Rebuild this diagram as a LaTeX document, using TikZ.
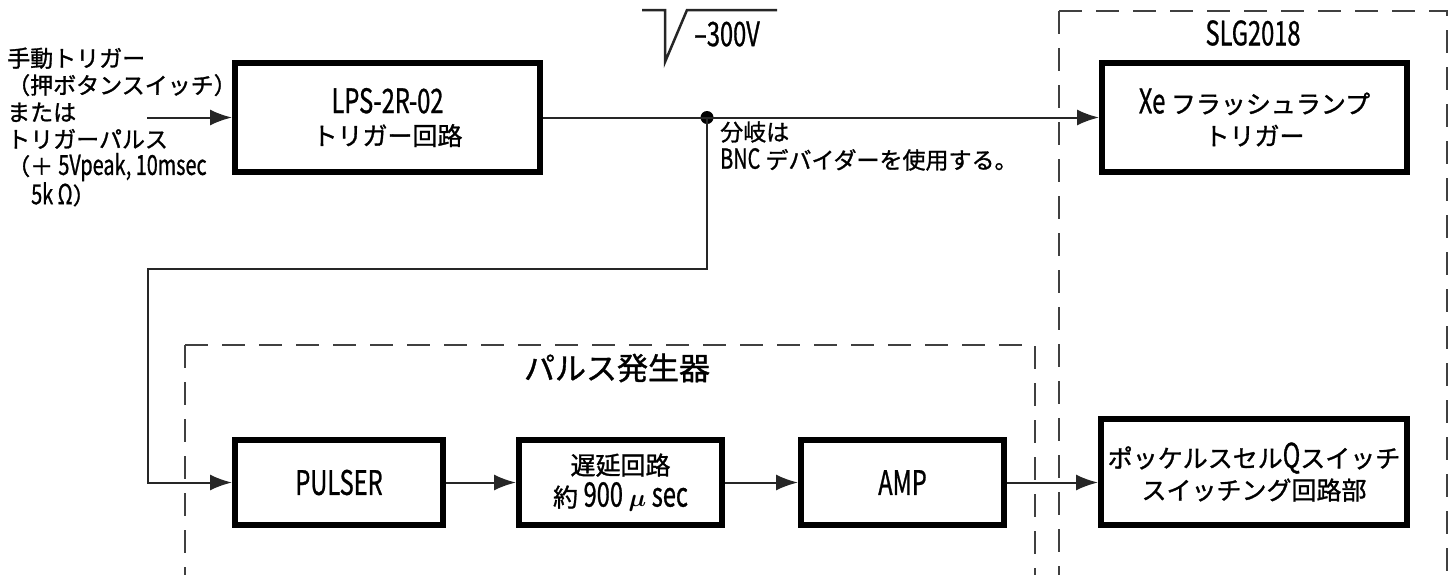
\documentclass[tikz,border=0pt]{standalone}
\usepackage{fontspec}
\setmainfont{Noto Sans CJK JP}[FakeBold=1.2]
\newfontfamily\latf[FakeStretch=0.7,Scale=1.35,FakeBold=0.8]{Noto Sans CJK JP}
\newfontfamily\latn[FakeStretch=0.72,Scale=1.2,FakeBold=0.8]{Noto Sans CJK JP}
\newcommand\lt[1]{{\latf #1}}
\newcommand\lnote[1]{{\latn #1}}
\usetikzlibrary{arrows.meta}
\begin{document}
\begin{tikzpicture}[x=1pt,y=-1pt,
  blk/.style={draw, line width=6pt, inner sep=0pt, align=center,
    font=\fontsize{25}{32}\selectfont},
  conn/.style={line width=2pt, draw=black!85, -{Latex[length=22pt,width=16pt]}},
  wire/.style={line width=2pt, draw=black!85},
  grp/.style={line width=2.5pt, draw=black!75, dash pattern=on 23pt off 14pt},
  note/.style={inner sep=0pt, align=left, font=\fontsize{23}{27}\selectfont},
  title/.style={inner sep=0pt, font=\fontsize{25}{30}\selectfont}
]
\useasboundingbox (0,0) rectangle (1456,574);
\clip (0,0) rectangle (1456,574);

% group frames
\draw[grp] (185,345) -- (185,590);
\draw[grp] (185,345) -- (1035,345) -- (1035,590);
\draw[grp] (1059,11) -- (1059,590);
\draw[grp] (1059,11) -- (1447,11) -- (1447,590);

% boxes
\node[blk, minimum width=305pt, minimum height=109pt] (lps) at (387.5,117.5) {\lt{LPS-2R-02}\\トリガー回路};
\node[blk, minimum width=305pt, minimum height=109pt] (xe) at (1254.5,117.5) {\lt{Xe} フラッシュランプ\\トリガー};
\node[blk, minimum width=208pt, minimum height=85pt] (pulser) at (339,482.5) {\lt{PULSER}};
\node[blk, minimum width=203pt, minimum height=85pt] (delay) at (620.5,482.5) {遅延回路\\約 \lt{900} {\fontsize{29}{32}\selectfont\boldmath$\mu$} \lt{sec}};
\node[blk, minimum width=203pt, minimum height=85pt] (amp) at (902.5,482.5) {\lt{AMP}};
\node[blk, minimum width=306pt, minimum height=106pt] (pockels) at (1254,472) {ポッケルスセル\lt{Q}スイッチ\\スイッチング回路部};

% labels
\node[note, anchor=west] (inlbl) at (7,127) {手動トリガー\\（押ボタンスイッチ）\\または\\トリガーパルス\\（＋ \lnote{5Vpeak, 10msec}\\\hspace*{24pt}\lnote{5k Ω}）};
\node[note, anchor=west, font=\fontsize{23}{28}\selectfont] (bnc) at (720,146) {分岐は\\\lnote{BNC} デバイダーを使用する。};
\node[title] (v300) at (727,34) {\lt{–300V}};
\node[title] (slg) at (1253,33) {\lt{SLG2018}};
\node[inner sep=0pt, font=\fontsize{31}{34}\selectfont] (pg) at (617,368) {パルス発生器};

% -300V symbol
\draw[line width=2.5pt, draw=black!85, line join=miter] (642,10) -- (665,10) -- (665,62) -- (687,10) -- (777,10);

% connectors
\coordinate (in) at (147,117.5);
\coordinate (turn) at (148,269);
\node[circle, fill=black, inner sep=0pt, minimum size=13pt] (dot) at (707,117.5) {};
\draw[conn] (in) -- (lps.west);
\draw[wire] (lps.east) -- (dot.center);
\draw[conn] (dot.center) -- (xe.west);
\draw[conn] (dot.center) |- (turn) |- (pulser.west);
\draw[conn] (pulser) -- (delay);
\draw[conn] (delay) -- (amp);
\draw[conn] (amp.east) -- (amp.east -| pockels.west);
\end{tikzpicture}
\end{document}
